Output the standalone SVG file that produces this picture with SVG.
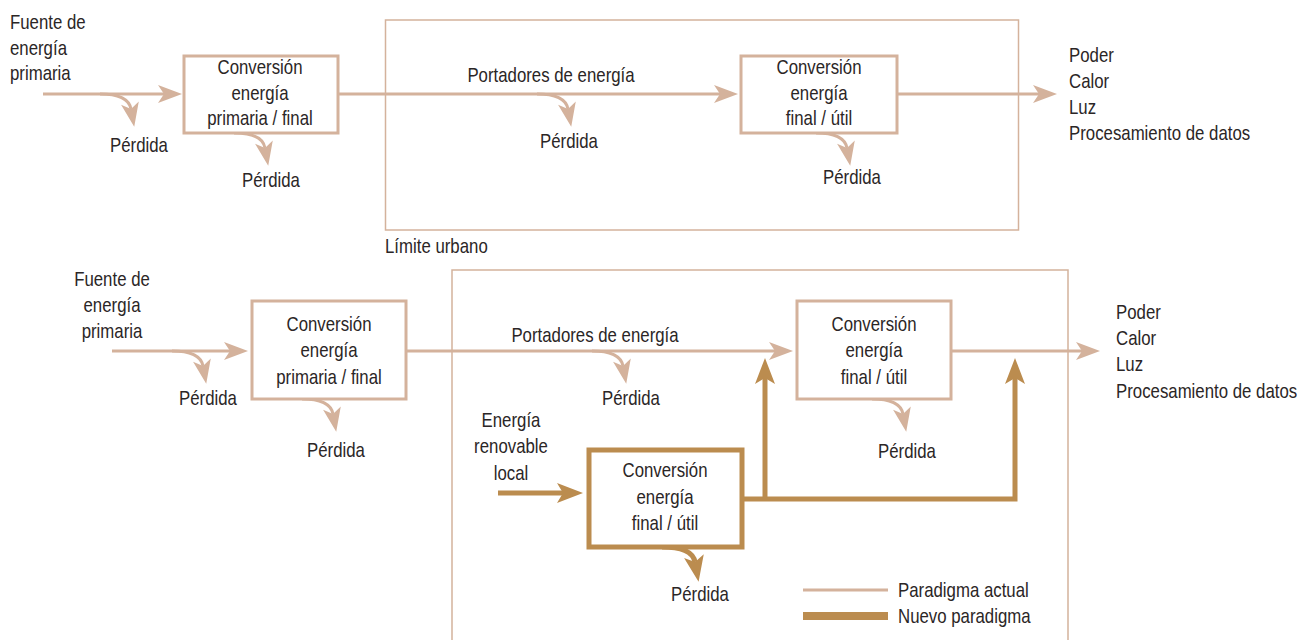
<svg xmlns="http://www.w3.org/2000/svg" width="1311" height="640" viewBox="0 0 1311 640">
<style>
text{font-family:"Liberation Sans",Arial,sans-serif;font-size:20.5px;fill:#2b2626}
.c{text-anchor:middle}
.l{fill:none;stroke:#d4b29c;stroke-width:3}
.lb{fill:#fff;stroke:#d4b29c;stroke-width:3}
.bd{fill:none;stroke:#d4b29c;stroke-width:1.5}
.d{fill:none;stroke:#bb8c4f;stroke-width:5}
.db{fill:#fff;stroke:#bb8c4f;stroke-width:5}
</style>
<defs>
<marker id="al" markerUnits="userSpaceOnUse" markerWidth="30" markerHeight="24" refX="0" refY="0" viewBox="-10 -12 30 24" orient="auto" overflow="visible"><path d="M18,0 L-6,-9 L0,0 L-6,9 Z" fill="#d4b29c"/></marker>
<marker id="ad" markerUnits="userSpaceOnUse" markerWidth="30" markerHeight="24" refX="0" refY="0" viewBox="-10 -12 30 24" orient="auto" overflow="visible"><path d="M20,0 L-6,-10 L0,0 L-6,10 Z" fill="#bb8c4f"/></marker>
</defs>

<g id="boundaries">
<rect class="bd" x="385.5" y="20" width="633" height="210"/>
<path class="bd" d="M452,650 V270 H1068 V650"/>
</g>

<g id="connectors">
<!-- top -->
<path class="l" d="M43,94 H164" marker-end="url(#al)"/>
<path class="l" d="M100,94 C118,94 129,98 131,109" marker-end="url(#al)"/>
<path class="l" d="M234,133 C252,133 263,137 265,148" marker-end="url(#al)"/>
<path class="l" d="M338,94 H720" marker-end="url(#al)"/>
<path class="l" d="M537,94 C555,94 566,98 568,109" marker-end="url(#al)"/>
<path class="l" d="M816,133 C834,133 845,137 847,148" marker-end="url(#al)"/>
<path class="l" d="M897,94 H1039" marker-end="url(#al)"/>
<!-- bottom -->
<path class="l" d="M112,351 H230" marker-end="url(#al)"/>
<path class="l" d="M172,351 C190,351 201,355 203,366" marker-end="url(#al)"/>
<path class="l" d="M302,399 C320,399 331,403 333,414" marker-end="url(#al)"/>
<path class="l" d="M406,351 H775" marker-end="url(#al)"/>
<path class="l" d="M592,351 C610,351 621,355 623,366" marker-end="url(#al)"/>
<path class="l" d="M872,399 C890,399 901,403 903,414" marker-end="url(#al)"/>
<path class="l" d="M951,351 H1082" marker-end="url(#al)"/>
<!-- new paradigm -->
<path class="d" d="M498,493 H563" marker-end="url(#ad)"/>
<path class="d" d="M742,499 H1015 V378" marker-end="url(#ad)"/>
<path class="d" d="M765,499 V378" marker-end="url(#ad)"/>
<path class="d" d="M662,547 C681,547 693,551 695,562" marker-end="url(#ad)"/>
</g>

<g id="n1"><g transform="translate(10,0) scale(.82,1)"><text y="29">Fuente de</text><text y="55">energía</text><text y="80">primaria</text></g></g>
<g id="n2"><rect class="lb" x="184" y="56" width="154" height="77"/><g transform="translate(260,0) scale(.82,1)"><text class="c" y="74">Conversión</text><text class="c" y="100">energía</text><text class="c" y="125">primaria / final</text></g></g>
<g id="n3"><rect class="lb" x="741" y="56" width="156" height="77"/><g transform="translate(819,0) scale(.82,1)"><text class="c" y="74">Conversión</text><text class="c" y="100">energía</text><text class="c" y="125">final / útil</text></g></g>
<g id="t1">
<text class="c" transform="translate(139,152) scale(.82,1)">Pérdida</text>
<text class="c" transform="translate(271,187) scale(.82,1)">Pérdida</text>
<text class="c" transform="translate(551,82) scale(.82,1)">Portadores de energía</text>
<text class="c" transform="translate(569,148) scale(.82,1)">Pérdida</text>
<text class="c" transform="translate(852,184) scale(.82,1)">Pérdida</text>
<g transform="translate(1069,0) scale(.82,1)"><text y="62">Poder</text><text y="88">Calor</text><text y="114">Luz</text><text y="140">Procesamiento de datos</text></g>
<text transform="translate(385,253) scale(.82,1)">Límite urbano</text>
</g>

<g id="n4"><g transform="translate(112,0) scale(.82,1)"><text class="c" y="286">Fuente de</text><text class="c" y="312">energía</text><text class="c" y="338">primaria</text></g></g>
<g id="n5"><rect class="lb" x="252" y="301" width="154" height="98"/><g transform="translate(329,0) scale(.82,1)"><text class="c" y="331">Conversión</text><text class="c" y="357">energía</text><text class="c" y="384">primaria / final</text></g></g>
<g id="n6"><rect class="lb" x="797" y="301" width="154" height="98"/><g transform="translate(874,0) scale(.82,1)"><text class="c" y="331">Conversión</text><text class="c" y="357">energía</text><text class="c" y="384">final / útil</text></g></g>
<g id="n7"><g transform="translate(511,0) scale(.82,1)"><text class="c" y="427">Energía</text><text class="c" y="453">renovable</text><text class="c" y="480">local</text></g></g>
<g id="n8"><rect class="db" x="589" y="450" width="153" height="97"/><g transform="translate(665,0) scale(.82,1)"><text class="c" y="477">Conversión</text><text class="c" y="504">energía</text><text class="c" y="530">final / útil</text></g></g>
<g id="t2">
<text class="c" transform="translate(208,405) scale(.82,1)">Pérdida</text>
<text class="c" transform="translate(336,457) scale(.82,1)">Pérdida</text>
<text class="c" transform="translate(595,342) scale(.82,1)">Portadores de energía</text>
<text class="c" transform="translate(631,405) scale(.82,1)">Pérdida</text>
<text class="c" transform="translate(907,458) scale(.82,1)">Pérdida</text>
<text class="c" transform="translate(700,601) scale(.82,1)">Pérdida</text>
<g transform="translate(1116,0) scale(.82,1)"><text y="319">Poder</text><text y="345">Calor</text><text y="371">Luz</text><text y="398">Procesamiento de datos</text></g>
</g>
<g id="legend">
<line x1="803" y1="590" x2="888" y2="590" stroke="#d4b29c" stroke-width="3"/>
<line x1="803" y1="616" x2="888" y2="616" stroke="#bb8c4f" stroke-width="8"/>
<text transform="translate(898,597) scale(.82,1)">Paradigma actual</text>
<text transform="translate(898,623) scale(.82,1)">Nuevo paradigma</text>
</g>
</svg>
